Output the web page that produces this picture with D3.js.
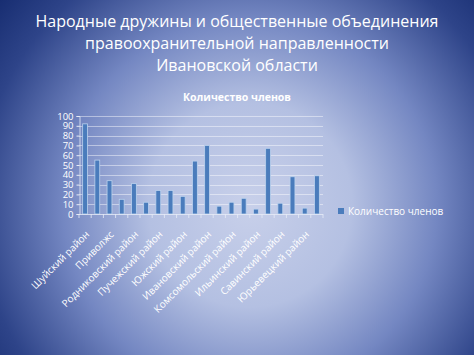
<!DOCTYPE html>
<html><head><meta charset="utf-8">
<script src="https://cdn.jsdelivr.net/npm/d3@7"></script>
<style>html,body{margin:0;padding:0;overflow:hidden;background:#1a2d70}</style>
</head><body>
<script>
const titleLines = ["Народные дружины и общественные объединения","правоохранительной направленности","Ивановской области"];
const chartTitle = "Количество членов";
const seriesName = "Количество членов";
const categories = ["Шуйский район","Вичугский район","Приволжский район","Фурмановский район","Родниковский район","Тейковский район","Пучежский район","Палехский район","Южский район","Лежневский район","Ивановский район","Гаврилово-Посадский район","Комсомольский район","Кинешемский район","Ильинский район","Лухский район","Савинский район","Пестяковский район","Юрьевецкий район","Заволжский район"];
const shownLabels = ["Шуйский район","","Приволжс","","Родниковский район","","Пучежский район","","Южский район","","Ивановский район","","Комсомольский район","","Ильинский район","","Савинский район","","Юрьевецкий район",""];
const values = [92,55,34,15,31,12,24,24,18,54,70,8,12,16,5,67,11,38,6,39];
const yTicks = [0,10,20,30,40,50,60,70,80,90,100];

const W=474,H=355;
const svg=d3.select("body").append("svg").attr("width",W).attr("height",H);
const defs=svg.append("defs");
const rg=defs.append("radialGradient").attr("id","bg").attr("gradientUnits","userSpaceOnUse")
  .attr("cx",250).attr("cy",205).attr("r",340).attr("fx",250).attr("fy",205);
rg.append("stop").attr("offset","0").attr("stop-color","#c8d0ea");
rg.append("stop").attr("offset","0.3").attr("stop-color","#b4c0e2");
rg.append("stop").attr("offset","0.55").attr("stop-color","#7487c2");
rg.append("stop").attr("offset","0.8").attr("stop-color","#2e4489");
rg.append("stop").attr("offset","1").attr("stop-color","#10266a");
svg.append("rect").attr("width",W).attr("height",H).attr("fill","url(#bg)");

const font="'Open Sans', 'Noto Sans', sans-serif";
svg.append("g").selectAll("text").data(titleLines).join("text")
  .attr("x",237).attr("y",(d,i)=>27+i*22).attr("text-anchor","middle")
  .attr("fill","#ffffff").attr("font-family",font).attr("font-size",16).text(d=>d);

svg.append("text").attr("x",237).attr("y",101).attr("text-anchor","middle")
  .attr("fill","#ffffff").attr("font-family",font).attr("font-weight","bold").attr("font-size",10.5).text(chartTitle);

const x=d3.scaleBand().domain(categories).range([79,323]).paddingInner(0.6).paddingOuter(0.3);
const y=d3.scaleLinear().domain([0,100]).range([214,116]);

const g=svg.append("g");
g.selectAll("line.grid").data(yTicks.filter(d=>d>0)).join("line").attr("class","grid")
  .attr("x1",79).attr("x2",323).attr("y1",d=>Math.round(y(d))+0.5).attr("y2",d=>Math.round(y(d))+0.5)
  .attr("stroke","#ffffff").attr("stroke-opacity",0.45).attr("stroke-width",1);

const yAxis=g.append("g").attr("transform","translate(79.5,0)")
  .call(d3.axisLeft(y).tickValues(yTicks).tickSize(3).tickPadding(3));
yAxis.select(".domain").attr("stroke","#e6ebf6").attr("stroke-opacity",0.8);
yAxis.selectAll(".tick line").attr("stroke","#e6ebf6");
yAxis.selectAll("text").attr("fill","#ffffff").attr("font-family",font).attr("font-size",9.5);

g.selectAll("rect.bar").data(values).join("rect").attr("class","bar")
  .attr("x",(d,i)=>x(categories[i])).attr("width",x.bandwidth())
  .attr("y",d=>y(d)).attr("height",d=>y(0)-y(d))
  .attr("fill","#4a7cbc").attr("stroke","#bcd2ee").attr("stroke-width",0.8);

// x axis
const step=x.step();
g.append("line").attr("x1",79).attr("x2",323).attr("y1",214.5).attr("y2",214.5)
  .attr("stroke","#e6ebf6").attr("stroke-opacity",0.8);
g.selectAll("line.xt").data(d3.range(categories.length+1)).join("line").attr("class","xt")
  .attr("x1",i=>79+i*step).attr("x2",i=>79+i*step).attr("y1",214).attr("y2",218)
  .attr("stroke","#e6ebf6").attr("stroke-opacity",0.8);

g.selectAll("text.xl").data(categories).join("text").attr("class","xl")
  .attr("transform",(d,i)=>`translate(${x(d)+x.bandwidth()/2+5},${235}) rotate(-45)`)
  .attr("text-anchor","end").attr("fill","#ffffff").attr("font-family",font).attr("font-size",10)
  .text((d,i)=>shownLabels[i]);

// legend
svg.append("rect").attr("x",338).attr("y",208).attr("width",6).attr("height",6).attr("fill","#4a7cbc");
svg.append("text").attr("x",348).attr("y",215).attr("fill","#ffffff").attr("font-family",font)
  .attr("font-size",10).text(seriesName);
</script>
</body></html>
